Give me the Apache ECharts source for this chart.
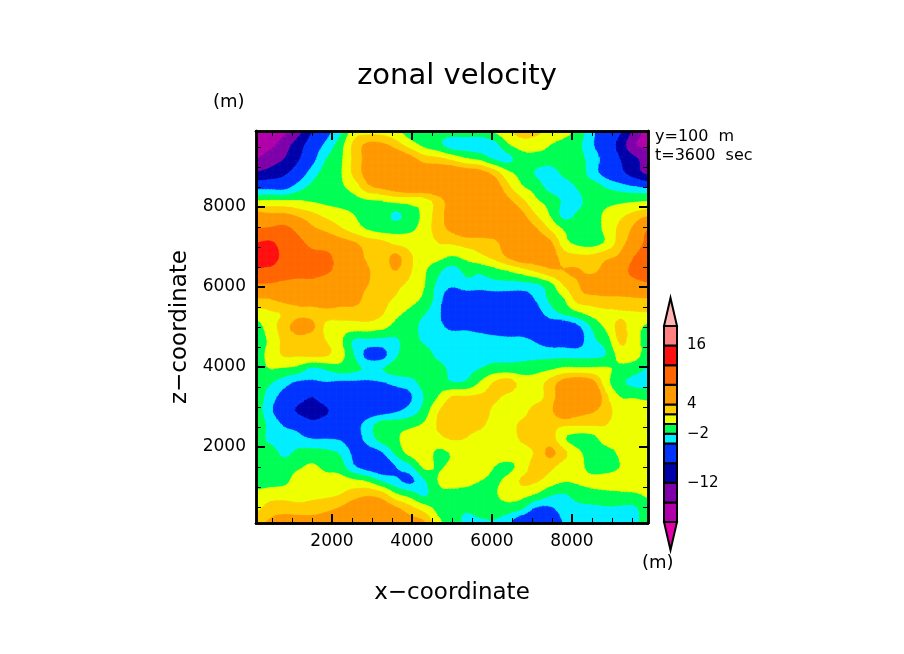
<!DOCTYPE html>
<html>
<head>
<meta charset="utf-8">
<title>zonal velocity</title>
<style>
  html, body { margin: 0; background: #fff; }
  #chart { width: 904px; height: 654px; }
</style>
<script src="https://cdn.jsdelivr.net/npm/echarts@6/dist/echarts.min.js"></script>
</head>
<body>
<div id="chart"></div>
<script>
(function () {
  'use strict';
  // grid nodes: x and z run 100..9900 m in 350 m steps
  var xNodes = [100, 450, 800, 1150, 1500, 1850, 2200, 2550, 2900, 3250, 3600, 3950, 4300, 4650, 5000,
    5350, 5700, 6050, 6400, 6750, 7100, 7450, 7800, 8150, 8500, 8850, 9200, 9550, 9900];
  var zNodes = [9900, 9550, 9200, 8850, 8500, 8150, 7800, 7450, 7100, 6750, 6400, 6050, 5700, 5350, 5000,
    4650, 4300, 3950, 3600, 3250, 2900, 2550, 2200, 1850, 1500, 1150, 800, 450, 100];
  // velocity, one row per z node (top row first)
  var velocity = [
    [-20,-19,-17,-13.5,-8,-5,-2.5,1,1.2,1.2,0.5,-1,-1,-1,-1, -1,-1,0.2,1.5,3,2.5,1.5,0.8,-0.7,-3.5,-5.5,-7.5,-13,-18],
    [-18,-17,-14,-10,-6,-3.5,-1,2.5,4.5,4.5,3,1,-0.5,-1.5,-3, -3,-3.2,-2.8,-0.3,0.8,0.8,0,-0.8,-1.5,-3.8,-5.5,-9.5,-15.5,-17],
    [-16,-14,-12,-8.5,-5,-2,-0.5,2.5,5,7.5,6.5,5,3,2.5,1.5, 0.2,-0.5,-2.2,-2.6,-0.8,-0.8,-0.9,-0.9,-1.2,-3,-5,-8,-11,-14],
    [-11.5,-10.5,-8.8,-6,-3,-1.2,-0.3,2.5,5,7,8,6.5,6,6,6, 5.5,5,3.2,0.5,-0.7,-2.2,-3,-1.5,-1,-3,-5,-7,-10,-13],
    [-5,-5,-5,-3,-1.5,-0.7,-0.3,0.8,3.5,4.5,5.5,6,6,6,6, 6,6,5.5,2.5,0.2,-0.8,-2.8,-3,-1.8,-1,-2.2,-3,-3.8,-4.5],
    [0,0.2,0.2,0.1,-0.2,-0.5,-0.7,-0.5,-0.3,0,0.5,0.8,1,3,5, 6,6,6,4.5,2.5,0.3,-0.7,-2.3,-2.5,-0.9,-0.7,-0.5,-0.3,-0.1],
    [5,4.5,4.5,3.5,2.5,1.5,0.8,0,-0.7,-1,-2.4,-1,0.5,3,5, 6,6,6,6,4.5,2,-0.1,-2.6,-1.7,-1,0.4,1.5,2.5,3.5],
    [8,8.5,9,7,4.5,3.5,2.3,1,-0.2,-0.8,-0.8,-0.4,0.8,3,4.5, 5.5,5.5,5.5,5.5,5.5,4.2,1.8,-0.2,-0.9,-0.9,0.5,2.5,4.5,8],
    [12,12.5,10.5,9,7,6,5,4.2,3,2.5,1.5,1.2,0.8,2,2.2, 2.8,3,3.5,5,5.5,5.5,4.5,0.8,-0.5,-0.8,0.3,3,5.5,9],
    [13,13.5,11,10,9,9,6.5,5.5,3.5,3,4.5,2.3,1,0.6,-0.2, 0.5,1.5,2.5,4.2,5.5,5.5,5.2,3,2.5,2.5,3.5,4.5,8,10],
    [11.5,11,10,9.5,9.5,8.5,7,6,4.2,3,4,2.2,0.3,-1.5,-3, -1.5,-1.6,-0.8,0,1,2.2,3.5,4,4.2,3.5,5,6.5,9,10],
    [7.5,7.5,7,6.5,6.5,6,6,5,4,2.7,2.4,1.5,0.1,-2.5,-3.7, -2.8,-3,-2.8,-2.8,-2.8,-2.4,-0.8,2.1,3.8,5.5,6,6,6.5,7.5],
    [3.8,4,4.8,5,5,5.5,4.8,4.8,3.2,2.5,1.8,0.8,-0.5,-3,-6, -6,-6,-5.5,-5.5,-5.5,-3.8,-1.6,-0.1,2.8,3.2,3.4,3.5,3.7,3.8],
    [1,1.7,2.2,3.4,3.4,3.2,3.2,3,3,2.2,0.5,-0.5,-1.8,-3.5,-6.5, -7,-7,-7,-7,-6.5,-5,-3,-1.5,-0.4,0.8,1.5,1.8,1.8,1.9],
    [-0.8,1,3,5,4.5,1.5,1,1,1,0.5,-0.7,-1,-2.8,-3.5,-4.5, -4.5,-5,-5.5,-5.5,-5.5,-5.5,-5.5,-6,-4.5,-1.8,0.4,2.5,1,-0.5],
    [-0.7,0.3,2.5,3,2.5,2,0.5,-2.3,-2.6,-2.7,-2.3,-1.2,-2.3,-3,-3, -3,-3,-3.2,-3.5,-3.5,-4.2,-5,-5,-5,-2.5,-1.2,2.3,0.9,-0.8],
    [-0.8,0.6,2.2,2.2,2.5,2.2,0.8,-2,-4.8,-4.8,-2.3,-1,-1,-2.5,-2.8, -2.8,-2.7,-2.7,-2.7,-2.7,-2.7,-2.7,-2.7,-2.7,-2.5,-2,0.8,0.8,-1],
    [-0.8,0,-0.3,-0.8,-2.5,-1.8,-1,-1.5,-2.3,-2,-1,-0.7,-0.7,-1.2,-2.5, -2.5,-2,-1.2,-1.1,-1.1,-0.7,-0.3,0.4,0.4,0.4,0.3,-0.5,-1.2,-2.2],
    [-0.8,-1.8,-3.2,-4.5,-4.5,-4.2,-4.5,-4.5,-4.5,-4.2,-3.5,-3,-1.2,-0.9,-1.9, -1.7,0.2,2.2,3,1.2,1,2.8,5,6,5,0.8,-1.5,-2.5,-2.8],
    [-0.9,-3,-5,-6.5,-8,-6,-5.5,-5.5,-5.5,-5.5,-5,-4.3,-2,0,2.1, 2.2,2.4,2.4,1.5,0.8,1,3,5.5,7,7,2.5,0,-0.2,-0.6],
    [-0.9,-3.5,-6,-8.5,-9.5,-8.5,-6,-6,-5.5,-5,-4.3,-3.2,-1.2,1.8,3.5, 3.7,3.5,1.5,1,1.1,3,3.5,6,5,4.3,2.8,1.2,1.2,1.2],
    [-0.9,-2.5,-4.2,-5,-7,-6,-5.5,-5,-3,-1,-0.8,-0.5,0.3,2.2,3.5, 3,2.5,1,1,2.5,3,2.7,2.2,2.1,2.1,2,1,1,1],
    [-0.9,-2.5,-3,-3.3,-4,-4,-4.2,-5,-3.2,-1.2,-0.3,0.8,1.5,1.5,2.1, 1.9,1,1,1,2.3,3,3,0.2,-1,-0.9,1,1,1,1],
    [-0.9,-1,-2.5,-1.5,-1.2,-1.5,-2.2,-4.5,-5,-4.2,-1.5,0.6,1.2,-0.5,0.2, 1,1,1,1,1,2.3,4.5,2.5,0.5,-1,-0.9,0.3,0.8,0.3],
    [-0.9,-0.9,-0.9,-0.3,0.3,-0.5,-1,-3.7,-5,-5.5,-4,-2.6,0.3,-0.2,0.4, 0.8,0.9,0,-0.5,0.8,3,2.5,1,0.7,-0.8,-0.8,0,0.6,0.6],
    [-0.8,-0.7,-0.5,0.8,1.1,0.8,0.9,0.4,-0.3,-2.2,-3.5,-4.5,-2.3,0,0.7, 0.5,0,-0.3,0.5,2.3,2.2,1,0.1,0.3,0.5,0.7,0.8,0.8,0.8],
    [0.5,1,1.2,1,1.5,1.6,2,3.1,3.7,3,0.4,-0.8,-2.3,-0.5,-0.7, -0.8,-0.8,-0.3,0.8,0.6,-0.3,-1.8,-2.2,-1.2,-0.8,-0.6,-0.4,-0.3,0.2],
    [1.5,3,3.2,3,3,3.5,4.3,5.5,6,5.5,4.5,2.8,1.2,-0.5,-0.9, -1.7,-1,-1,-1.1,-1.9,-4.5,-4.5,-3,-2.6,-2.5,-2.3,-2.4,-2.4,-0.8],
    [3.5,4.3,5,5,5,5.5,6,6.5,6.5,6,6,5,4.3,0.5,-0.5, -2.8,-2.5,-2.2,-3.5,-6.5,-7,-6.5,-3.8,-3,-3,-3,-3,-2.6,-0.9]
  ];
  // contour levels and the 14 fill colours, lowest band first
  var levels = [-20, -16, -12, -8, -4, -2, 0, 2, 4, 8, 12, 16, 20];
  var bandColors = ['#E600AA', '#B000AA', '#7F00AA', '#0000AA', '#0033FF', '#00EEFF', '#00FF55',
    '#EEFF00', '#FFCC00', '#FF9900', '#FF6600', '#FF1010', '#FF8080', '#FFB4B4'];
  var barLabels = [16, 4, -2, -12];
  var barTipValue = 25.7; // the end triangles of the colour bar reach here
  var majorTicks = [2000, 4000, 6000, 8000];
  var minorTicks = [500, 1000, 1500, 2500, 3000, 3500, 4500, 5000, 5500, 6500, 7000, 7500, 8500, 9000, 9500];

  var FONT = '"DejaVu Sans"';
  var SUBCELLS = 4; // contour smoothing: each grid cell is drawn as SUBCELLS x SUBCELLS
  var plotRect = { left: 256, top: 131, width: 392, height: 392 };
  var barRect = { left: 664, top: 298, width: 13, height: 252 };

  function bandOf(v) {
    var b = 0;
    while (b < levels.length && v >= levels[b]) b++;
    return b;
  }

  function spline(p0, p1, p2, p3, t) {
    return p1 + 0.5 * t * (p2 - p0 + t * (2 * p0 - 5 * p1 + 4 * p2 - p3 + t * (3 * (p1 - p2) + p3 - p0)));
  }

  // smooth surface through the nodes, fractional column / row
  function fieldAt(c, r) {
    var maxC = xNodes.length - 1, maxR = zNodes.length - 1;
    var c0 = Math.min(Math.floor(c), maxC - 1), r0 = Math.min(Math.floor(r), maxR - 1);
    var col = [];
    for (var k = -1; k <= 2; k++) {
      var row = velocity[Math.max(0, Math.min(maxR, r0 + k))];
      col.push(spline(row[Math.max(0, c0 - 1)], row[c0], row[c0 + 1], row[Math.min(maxC, c0 + 2)], c - c0));
    }
    return spline(col[0], col[1], col[2], col[3], r - r0);
  }

  // keep the part of a polygon [[px, py, v], ...] that lies on one side of level
  function clipPoly(poly, level, keepAbove) {
    var out = [];
    for (var i = 0; i < poly.length; i++) {
      var a = poly[i], b = poly[(i + 1) % poly.length];
      var aIn = keepAbove ? a[2] >= level : a[2] <= level;
      var bIn = keepAbove ? b[2] >= level : b[2] <= level;
      if (aIn) out.push(a);
      if (aIn !== bIn) {
        var t = (level - a[2]) / (b[2] - a[2]);
        out.push([a[0] + (b[0] - a[0]) * t, a[1] + (b[1] - a[1]) * t, level]);
      }
    }
    return out;
  }

  function pushPoly(poly, b, children) {
    children.push({
      type: 'polygon',
      shape: { points: poly.map(function (p) { return [p[0], p[1]]; }) },
      style: { fill: bandColors[b], stroke: bandColors[b], lineWidth: 0.7 }
    });
  }

  function fillTriangle(tri, children) {
    for (var b = 0; b < bandColors.length; b++) {
      var poly = tri;
      if (b > 0) poly = clipPoly(poly, levels[b - 1], true);
      if (poly.length && b < levels.length) poly = clipPoly(poly, levels[b], false);
      if (poly.length >= 3) pushPoly(poly, b, children);
    }
  }

  // one grid cell of the contour fill
  function renderCell(params, api) {
    var i = api.value(0), j = api.value(1);
    var dx = xNodes[i + 1] - xNodes[i], dz = zNodes[j + 1] - zNodes[j];
    function node(s, t) {
      var p = api.coord([xNodes[i] + dx * s / SUBCELLS, zNodes[j] + dz * t / SUBCELLS]);
      return [p[0], p[1], fieldAt(i + s / SUBCELLS, j + t / SUBCELLS)];
    }
    var children = [];
    for (var s = 0; s < SUBCELLS; s++) {
      for (var t = 0; t < SUBCELLS; t++) {
        var a = node(s, t), b = node(s + 1, t), c = node(s + 1, t + 1), d = node(s, t + 1);
        var band = bandOf(a[2]);
        if (band === bandOf(b[2]) && band === bandOf(c[2]) && band === bandOf(d[2])) {
          pushPoly([a, b, c, d], band, children);
        } else {
          fillTriangle([a, b, c], children);
          fillTriangle([a, c, d], children);
        }
      }
    }
    return { type: 'group', children: children };
  }

  // one segment of the colour bar; the two end bands are triangles
  function renderBarBand(params, api) {
    var b = api.value(0);
    var x0 = api.coord([0, 0])[0], x1 = api.coord([1, 0])[0];
    var style = { fill: bandColors[b], stroke: '#000', lineWidth: 2 };
    if (b === 0 || b === bandColors.length - 1) {
      var base = api.coord([0, b === 0 ? levels[0] : levels[levels.length - 1]])[1];
      var tip = api.coord([0, b === 0 ? -barTipValue : barTipValue])[1];
      return { type: 'polygon', shape: { points: [[x0, base], [x1, base], [(x0 + x1) / 2, tip]] }, style: style };
    }
    var top = api.coord([0, levels[b]])[1], bottom = api.coord([0, levels[b - 1]])[1];
    return { type: 'rect', shape: { x: x0, y: top, width: x1 - x0, height: bottom - top }, style: style };
  }

  var cells = [];
  for (var j = 0; j < zNodes.length - 1; j++) {
    for (var i = 0; i < xNodes.length - 1; i++) cells.push([i, j]);
  }

  function lineStyle(w) { return { show: true, lineStyle: { color: '#000', width: w } }; }

  function plotAxis(gridIndex, position, ticks, tickLen, tickWidth, extra) {
    var axis = {
      type: 'value', gridIndex: gridIndex, position: position, min: 100, max: 9900, z: 10,
      axisLine: lineStyle(2.5),
      splitLine: { show: false },
      axisTick: { show: true, inside: true, length: tickLen, customValues: ticks,
        lineStyle: { color: '#000', width: tickWidth } },
      axisLabel: { show: false }
    };
    if (extra) Object.keys(extra).forEach(function (k) { axis[k] = extra[k]; });
    return axis;
  }

  var labelStyle = {
    show: true, customValues: majorTicks, color: '#000', fontFamily: FONT, fontSize: 17, margin: 10,
    formatter: function (v) { return String(v); }
  };

  var chart = echarts.init(document.getElementById('chart'));
  chart.setOption({
    animation: false,
    backgroundColor: '#fff',
    title: {
      text: 'zonal velocity', left: 452, top: 57, textAlign: 'center',
      textStyle: { color: '#000', fontFamily: FONT, fontWeight: 'normal', fontSize: 29 }
    },
    grid: [plotRect, plotRect, barRect],
    xAxis: [
      plotAxis(0, 'bottom', majorTicks, 9, 2, {
        axisLabel: labelStyle, name: 'x\u2212coordinate', nameLocation: 'middle', nameGap: 59,
        nameTextStyle: { color: '#000', fontFamily: FONT, fontSize: 23 }
      }),
      plotAxis(0, 'top', majorTicks, 9, 2),
      plotAxis(1, 'bottom', minorTicks, 5, 1),
      plotAxis(1, 'top', minorTicks, 5, 1),
      { type: 'value', gridIndex: 2, min: 0, max: 1, show: false }
    ],
    yAxis: [
      plotAxis(0, 'left', majorTicks, 9, 2, {
        axisLabel: labelStyle, name: 'z\u2212coordinate', nameLocation: 'middle', nameGap: 64, nameRotate: 90,
        nameTextStyle: { color: '#000', fontFamily: FONT, fontSize: 23 }
      }),
      plotAxis(0, 'right', majorTicks, 9, 2),
      plotAxis(1, 'left', minorTicks, 5, 1),
      plotAxis(1, 'right', minorTicks, 5, 1),
      {
        type: 'value', gridIndex: 2, position: 'right', min: -barTipValue, max: barTipValue,
        axisLine: { show: false }, axisTick: { show: false }, splitLine: { show: false },
        axisLabel: {
          show: true, customValues: barLabels, color: '#000', fontFamily: FONT, fontSize: 15, margin: 10,
          formatter: function (v) { return String(v).replace('-', '\u2212'); }
        }
      }
    ],
    series: [
      {
        type: 'custom', xAxisIndex: 0, yAxisIndex: 0, data: cells, renderItem: renderCell,
        clip: true, silent: true, progressive: 0, encode: { x: 0, y: 1 }, z: 1
      },
      {
        type: 'custom', xAxisIndex: 4, yAxisIndex: 4, data: bandColors.map(function (c, b) { return [b]; }),
        renderItem: renderBarBand, silent: true, z: 3, encode: { y: 0 }
      }
    ],
    graphic: [
      { type: 'text', x: 213, y: 93, style: { text: '(m)', fill: '#000', font: '18px ' + FONT } },
      { type: 'text', x: 642, y: 554, style: { text: '(m)', fill: '#000', font: '18px ' + FONT } },
      { type: 'text', x: 655, y: 129, style: { text: 'y=100  m', fill: '#000', font: '16px ' + FONT } },
      { type: 'text', x: 655, y: 148, style: { text: 't=3600  sec', fill: '#000', font: '16px ' + FONT } }
    ]
  });
})();
</script>
</body>
</html>
